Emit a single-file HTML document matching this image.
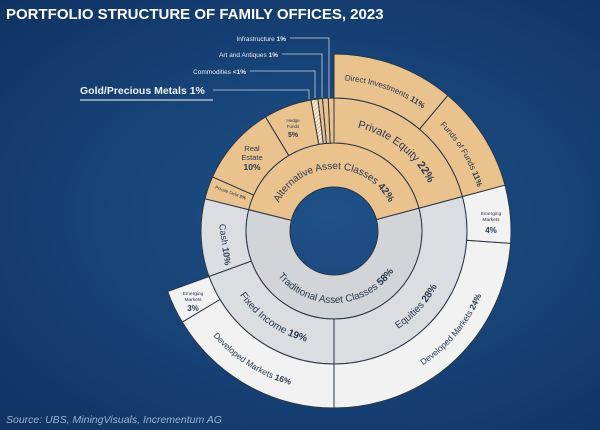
<!DOCTYPE html>
<html><head><meta charset="utf-8"><style>
html,body{margin:0;padding:0;width:600px;height:430px;overflow:hidden}
body{background:radial-gradient(ellipse at 55% 50%,#1f5088 0%,#174377 50%,#0f3262 100%);font-family:"Liberation Sans",sans-serif}
svg{position:absolute;left:0;top:0}
</style></head><body>
<svg width="600" height="430" viewBox="0 0 600 430" xmlns="http://www.w3.org/2000/svg">
<defs>
<pattern id="hatch" width="3" height="3" patternUnits="userSpaceOnUse" patternTransform="rotate(45)">
<rect width="3" height="3" fill="#fbf3e6"/><rect width="1.2" height="3" fill="#e3b880"/>
</pattern>
<path id="tAlt"/><path id="tTrad"/><path id="tPE"/><path id="tDI"/><path id="tFoF"/>
<path id="tEq"/><path id="tDM24"/><path id="tFI"/><path id="tDM16"/>
</defs>
<text x="6" y="19" fill="#fff" font-size="15" font-weight="bold">PORTFOLIO STRUCTURE OF FAMILY OFFICES, 2023</text>
<g id="wedges" stroke="#2b3645" stroke-width="1"></g>
<g fill="none" stroke="#c9d4e2" stroke-width="0.8">
<polyline points="290,38 329,38 329,98"/>
<polyline points="282,54 322,54 322,98"/>
<polyline points="250,71 315,71 315,98"/>
<polyline points="213,90 309,90 309,99"/>
<line x1="80" y1="100" x2="213" y2="100" stroke-width="1.2"/>
</g>
<g font-size="6.5" fill="#e6ecf4" text-anchor="end">
<text x="286" y="41">Infrastructure <tspan font-weight="bold">1%</tspan></text>
<text x="278" y="57">Art and Antiques <tspan font-weight="bold">1%</tspan></text>
<text x="246" y="74">Commodities <tspan font-weight="bold">&lt;1%</tspan></text>
</g>
<text x="80" y="94" font-size="10.5" font-weight="bold" fill="#eef2f8">Gold/Precious Metals 1%</text>
<g fill="#2b3a52" text-anchor="middle">
<text font-size="10"><textPath href="#tAlt" startOffset="50%">Alternative Asset Classes <tspan font-weight="bold">42%</tspan></textPath></text>
<text font-size="10"><textPath href="#tTrad" startOffset="50%">Traditional Asset Classes <tspan font-weight="bold">58%</tspan></textPath></text>
<text font-size="11"><textPath href="#tPE" startOffset="50%">Private Equity <tspan font-weight="bold">22%</tspan></textPath></text>
<text font-size="8"><textPath href="#tDI" startOffset="50%">Direct Investments <tspan font-weight="bold">11%</tspan></textPath></text>
<text font-size="8"><textPath href="#tFoF" startOffset="50%">Funds of Funds <tspan font-weight="bold">11%</tspan></textPath></text>
<text font-size="10"><textPath href="#tEq" startOffset="50%">Equities <tspan font-weight="bold">28%</tspan></textPath></text>
<text font-size="8.5"><textPath href="#tDM24" startOffset="50%">Developed Markets <tspan font-weight="bold">24%</tspan></textPath></text>
<text font-size="10"><textPath href="#tFI" startOffset="50%">Fixed Income <tspan font-weight="bold">19%</tspan></textPath></text>
<text font-size="8.5"><textPath href="#tDM16" startOffset="50%">Developed Markets <tspan font-weight="bold">16%</tspan></textPath></text>
<text font-size="9" transform="translate(222,245) rotate(82)">Cash <tspan font-weight="bold">10%</tspan></text>
<text font-size="7.5" x="252" y="151">Real</text>
<text font-size="7.5" x="252" y="160">Estate</text>
<text font-size="8.5" x="252" y="170" font-weight="bold">10%</text>
<text font-size="4.5" x="293" y="122">Hedge</text>
<text font-size="4.5" x="293" y="128">Funds</text>
<text font-size="7" x="293" y="137" font-weight="bold">5%</text>
<text font-size="4.5" transform="translate(230,194) rotate(20)">Private Debt <tspan font-weight="bold">2%</tspan></text>
<text font-size="4.8" x="491" y="215">Emerging</text>
<text font-size="4.8" x="491" y="221">Markets</text>
<text font-size="8" x="491" y="233" font-weight="bold">4%</text>
<text font-size="4.8" x="193" y="295">Emerging</text>
<text font-size="4.8" x="193" y="301">Markets</text>
<text font-size="8" x="193" y="311" font-weight="bold">3%</text>
</g>
<text x="6" y="423" font-size="10.5" font-style="italic" fill="#9fb3cc">Source: UBS, MiningVisuals, Incrementum AG</text>
</svg>
<script>
(function(){
var cx=334,cy=231;
function pt(r,a){a=a*Math.PI/180;return (cx+r*Math.cos(a)).toFixed(2)+","+(cy-r*Math.sin(a)).toFixed(2);}
function wedge(r0,r1,a0,a1){var L=(a1-a0)>180?1:0;
return "M"+pt(r1,a0)+" A"+r1+","+r1+" 0 "+L+" 0 "+pt(r1,a1)+" L"+pt(r0,a1)+" A"+r0+","+r0+" 0 "+L+" 1 "+pt(r0,a0)+" Z";}
var T="#e9c28d",G1="#d3d4d7",G2="#dcdde0",G3="#f2f2f3";
var W=[
[44,88,15,166,T],[44,88,166,375,G1],
[88,133,15,90,T],[88,133,90,92.5,T],[88,133,92.5,95,T],[88,133,95,97,T],[88,133,97,100,"url(#hatch)"],
[88,133,100,121,T],[88,133,121,156,T],[88,133,156,166,T],
[88,133,166,200,G2],[88,133,200,270,G2],[88,133,270,375,G2],
[133,177,15,50,T],[133,177,50,90,T],
[133,177,200,211,G3],[133,177,211,270,G3],[133,177,270,356,G3],[133,177,356,375,G3]];
var NS="http://www.w3.org/2000/svg";
var g=document.getElementById("wedges");
for(var i=0;i<W.length;i++){var w=W[i];var p=document.createElementNS(NS,"path");
p.setAttribute("d",wedge(w[0],w[1],w[2],w[3]));p.setAttribute("fill",w[4]);g.appendChild(p);}
function arcTop(id,r,a0,a1){document.getElementById(id).setAttribute("d","M"+pt(r,a0)+" A"+r+","+r+" 0 0 1 "+pt(r,a1));}
function arcBot(id,r,a0,a1){document.getElementById(id).setAttribute("d","M"+pt(r,a0)+" A"+r+","+r+" 0 0 0 "+pt(r,a1));}
arcTop("tAlt",62,175,5);
arcBot("tTrad",72,195,350);
arcTop("tPE",106,97,7);
arcTop("tDI",151,110,30);
arcTop("tFoF",150,75,-13);
arcBot("tEq",117,260,375);
arcBot("tDM24",161,250,390);
arcBot("tFI",114,180,290);
arcBot("tDM16",160,175,300);
})();
</script>
</body></html>
